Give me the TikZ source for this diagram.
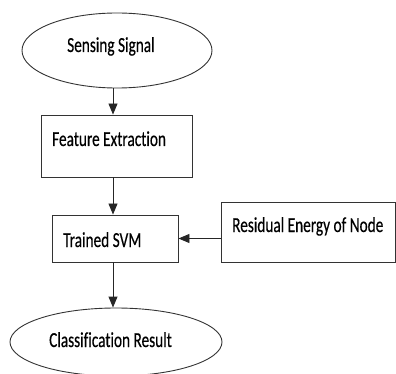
\documentclass[tikz,border=0pt]{standalone}
\usepackage{fontspec}
\setmainfont{Carlito}[Ligatures=NoCommon,FakeBold=0.4]
\usepackage{graphicx}
\usetikzlibrary{shapes.geometric,arrows.meta}
\newcommand\tallt[1]{\scalebox{1}[1.4]{#1}}
\begin{document}
\begin{tikzpicture}[x=1pt,y=-1pt,
    box/.style={draw=black!80,line width=0.9pt,inner sep=0pt},
    oval/.style={box,ellipse},
    txt/.style={anchor=base west,inner sep=0pt,font=\fontsize{15.3}{18}\selectfont},
    arr/.style={draw=black!85,line width=0.9pt,-{Triangle[length=11pt,width=9pt]}}]
        \useasboundingbox (0,0) rectangle (396,374);
        \node[oval,minimum width=190,minimum height=75] (sense) at (117,50.5) {};
        \node[box,minimum width=151,minimum height=62] (feat) at (116.5,146) {};
        \node[box,minimum width=126,minimum height=47] (svm) at (115,238.5) {};
        \node[box,minimum width=174,minimum height=60] (energy) at (308,232) {};
        \node[oval,minimum width=212,minimum height=68] (result) at (116,342) {};
        % labels
        \node[txt] (senset) at (67,52) {\tallt{Sensing Signal}};
        \node[txt] (featt) at (52,146) {\tallt{Feature Extraction}};
        \node[txt] (svmt) at (63,247) {\tallt{Trained SVM}};
        \node[txt] (energyt) at (232,232) {\tallt{Residual Energy of Node}};
        \node[txt] (resultt) at (49,347) {\tallt{Classification Result}};
        % arrows, on the line x=113
        \draw[arr] ([xshift=-4pt]sense.south) -- ([xshift=-4pt]sense.south |- feat.north);
        \draw[arr] ([xshift=-3.5pt]feat.south) -- ([xshift=-3.5pt]feat.south |- svm.north);
        \draw[arr] (energy.west |- svm.east) -- (svm.east);
        \draw[arr] ([xshift=-2pt]svm.south) -- ([xshift=-2pt]svm.south |- result.north);
\end{tikzpicture}
\end{document}
